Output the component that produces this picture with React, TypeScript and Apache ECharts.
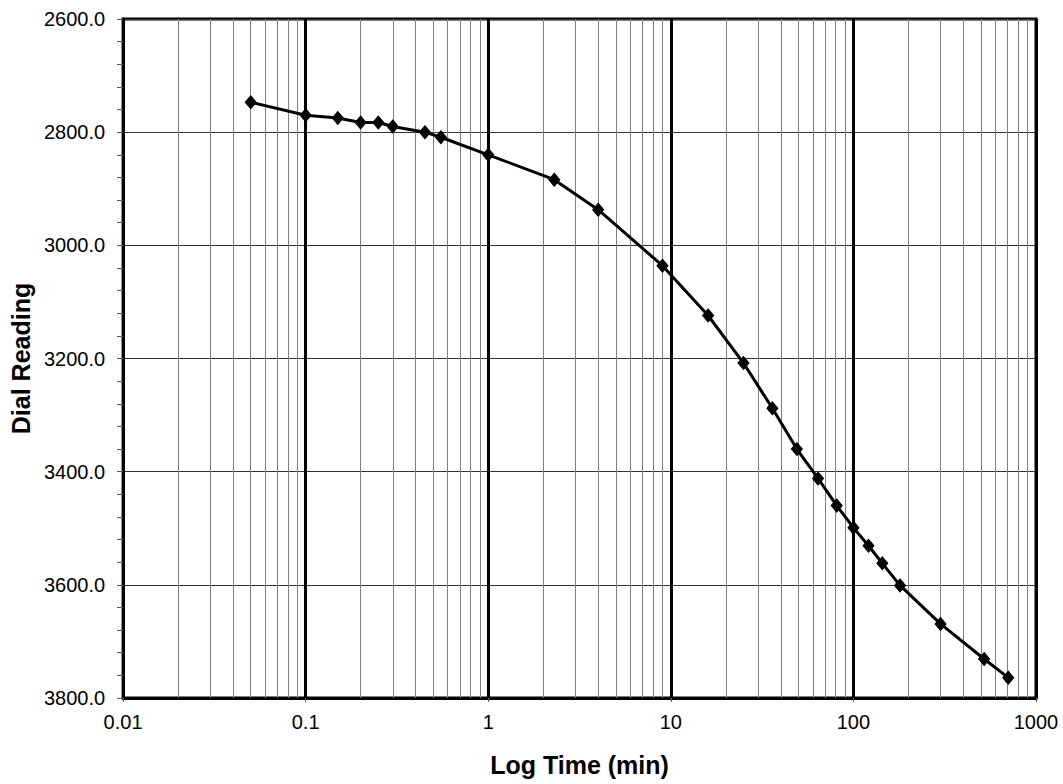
import React, { useEffect, useRef } from "react";
import * as echarts from "echarts";

const times = [0.05, 0.1, 0.15, 0.2, 0.25, 0.3, 0.45, 0.55, 1, 2.3, 4, 9, 16, 25, 36, 49, 64, 81, 100, 121, 144, 180, 300, 520, 705];
const readings = [2747, 2770, 2775, 2783, 2783, 2790, 2800, 2809, 2840, 2884, 2937, 3036, 3124, 3208, 3288, 3360, 3412, 3460, 3499, 3531, 3562, 3601, 3669, 3731, 3764];
const decades = [0.01, 0.1, 1, 10, 100];
const minorMultipliers = [2, 3, 4, 5, 6, 7, 8, 9];

const FONT = "'Liberation Sans', Arial, sans-serif";

export default function App() {
  const ref = useRef<HTMLDivElement>(null);
  useEffect(() => {
    if (!ref.current) return;
    const chart = echarts.init(ref.current, null, { renderer: "svg" });
    const minorValues: number[] = [];
    decades.forEach((d) => minorMultipliers.forEach((m) => minorValues.push(Number((d * m).toPrecision(6)))));
    const data = times.map((t, i) => [t, readings[i]]);
    chart.setOption({
      animation: false,
      backgroundColor: "#ffffff",
      grid: {
        left: 122,
        top: 19,
        right: 27,
        bottom: 86,
        show: true,
        borderColor: "#000",
        borderWidth: 3,
        backgroundColor: "transparent",
      },
      xAxis: {
        type: "log",
        logBase: 10,
        min: 0.01,
        max: 1000,
        name: "Log Time (min)",
        nameLocation: "middle",
        nameGap: 54,
        nameTextStyle: { fontFamily: FONT, fontSize: 25, fontWeight: "bold", color: "#000" },
        axisLine: { show: true, onZero: false, lineStyle: { color: "#000", width: 3 } },
        axisTick: { show: true, length: 4, lineStyle: { color: "#555", width: 1 } },
        axisLabel: {
          fontFamily: FONT,
          fontSize: 20,
          color: "#000",
          margin: 14,
          formatter: (v: number) => String(Number(v.toPrecision(6))),
        },
        splitLine: { show: true, lineStyle: { color: "#000", width: 3 } },
        minorTick: { show: false },
        minorSplitLine: { show: false },
      },
      yAxis: {
        type: "value",
        inverse: true,
        min: 2600,
        max: 3800,
        interval: 200,
        name: "Dial Reading",
        nameLocation: "middle",
        nameRotate: 90,
        nameGap: 86,
        nameTextStyle: { fontFamily: FONT, fontSize: 25, fontWeight: "bold", color: "#000" },
        axisLine: { show: true, onZero: false, lineStyle: { color: "#000", width: 3 } },
        axisTick: { show: true, length: 6, lineStyle: { color: "#555", width: 1 } },
        minorTick: { show: true, splitNumber: 5, length: 6, lineStyle: { color: "#555", width: 1 } },
        axisLabel: {
          fontFamily: FONT,
          fontSize: 20,
          color: "#000",
          margin: 18,
          formatter: (v: number) => v.toFixed(1),
        },
        splitLine: { show: true, lineStyle: { color: "#333", width: 1 } },
      },
      series: [
        {
          type: "line",
          data: [],
          z: 1,
          silent: true,
          markLine: {
            silent: true,
            symbol: "none",
            label: { show: false },
            lineStyle: { color: "#808080", width: 1, type: "solid" },
            data: minorValues.map((v) => ({ xAxis: v })),
          },
        },
        {
          type: "line",
          data,
          z: 5,
          symbol: "diamond",
          symbolSize: [11, 13],
          showSymbol: true,
          lineStyle: { color: "#000", width: 3 },
          itemStyle: { color: "#000", borderColor: "#000" },
        },
      ],
    });
    return () => chart.dispose();
  }, []);
  return (
    <div
      ref={ref}
      style={{ position: "absolute", left: 0, top: 0, width: 1063, height: 784, background: "#fff" }}
    />
  );
}
